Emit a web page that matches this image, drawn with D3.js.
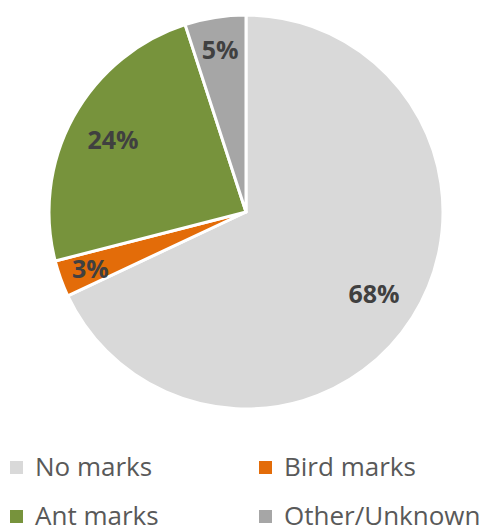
<!DOCTYPE html>
<html>
<head>
<meta charset="utf-8">
<script src="https://cdn.jsdelivr.net/npm/d3@7"></script>
<style>
  html, body { margin: 0; padding: 0; background: #fff; }
  svg { display: block; }
</style>
</head>
<body>
<svg id="chart" width="498" height="532"></svg>
<script>
// Share of marks found, by source
const categories = ["No marks", "Bird marks", "Ant marks", "Other/Unknown"];
const shares = [68, 3, 24, 5];
const colors = ["#d9d9d9", "#e36c09", "#77933c", "#a6a6a6"];

const svg = d3.select("#chart");
const cx = 246, cy = 212, radius = 197;

const data = categories.map((c, i) => ({ name: c, value: shares[i], color: colors[i] }));

const pie = d3.pie().value(d => d.value).sort(null);
const arcs = pie(data);

const arc = d3.arc().innerRadius(0).outerRadius(radius);

const g = svg.append("g").attr("transform", `translate(${cx},${cy})`);

g.selectAll("path.slice")
  .data(arcs)
  .join("path")
  .attr("class", "slice")
  .attr("d", arc)
  .attr("fill", d => d.data.color)
  .attr("stroke", "#fff")
  .attr("stroke-width", 3)
  .attr("stroke-linejoin", "round");

// Percentage labels: small slices sit a little further out
const labelArc = d => {
  const r = radius * (d.data.value < 10 ? 0.84 : 0.77);
  return d3.arc().innerRadius(r).outerRadius(r).centroid(d);
};

g.selectAll("text.pct")
  .data(arcs)
  .join("text")
  .attr("class", "pct")
  .attr("x", d => labelArc(d)[0])
  .attr("y", d => labelArc(d)[1])
  .attr("text-anchor", "middle")
  .attr("dominant-baseline", "central")
  .attr("font-family", "'Open Sans', sans-serif")
  .attr("font-weight", "bold")
  .attr("font-size", 25)
  .attr("fill", "#404040")
  .text(d => d.data.value + "%");

// Legend: two columns, two rows
const legend = svg.append("g");
const colX = [10, 259];
const rowY = [467, 516];

const items = legend.selectAll("g.item")
  .data(data)
  .join("g")
  .attr("class", "item")
  .attr("transform", (d, i) => `translate(${colX[i % 2]},${rowY[Math.floor(i / 2)]})`);

items.append("rect")
  .attr("x", 0)
  .attr("y", -6)
  .attr("width", 13)
  .attr("height", 13)
  .attr("fill", d => d.color);

items.append("text")
  .attr("x", 25)
  .attr("y", 9)
  .attr("font-family", "'Open Sans', sans-serif")
  .attr("font-size", 26)
  .attr("fill", "#595959")
  .text(d => d.name);
</script>
</body>
</html>
